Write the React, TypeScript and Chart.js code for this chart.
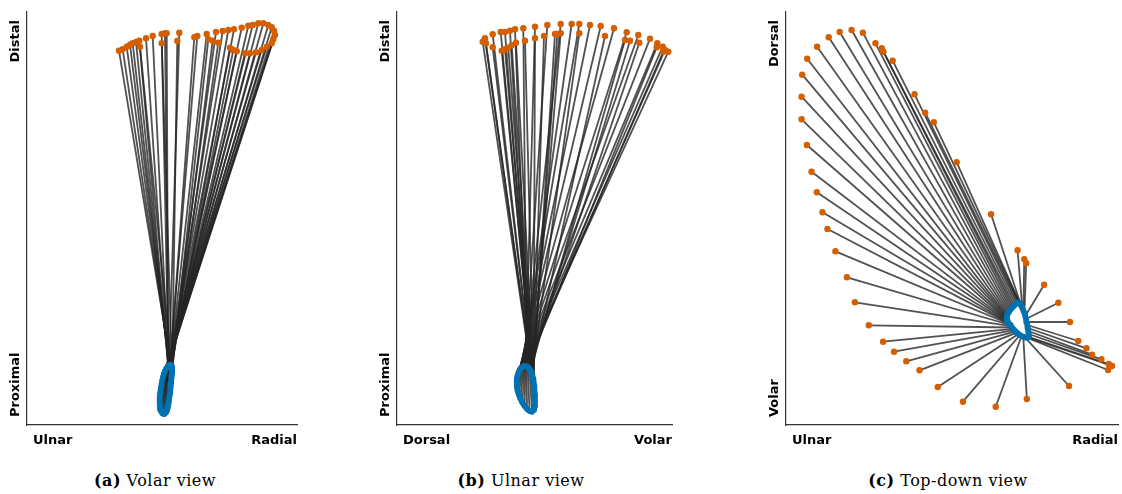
import React, { useEffect, useRef } from "react";
import { Chart, registerables } from "chart.js";

Chart.register(...registerables);

type Pt = [number, number];

// ---------- Panel (a) Volar view : x = ulnar→radial, y = proximal→distal ----------
const VOLAR_DISTAL: Pt[] = [
  [92, 374.3], [95.7, 375.7], [99.7, 378.3], [103, 380.3], [105.7, 381.7], [109, 383], [112.3, 384.3],
  [119, 386.7], [125.7, 389], [134.7, 391], [138, 391.7], [139.7, 391.7], [152.3, 392.3], [167.3, 387.7],
  [170.3, 389], [179.7, 391], [189, 393], [195.7, 394], [201.3, 395], [207, 395.7], [214.7, 397.3],
  [221.3, 399.3], [225.7, 400], [231.3, 401.7], [236.3, 401.7], [241.3, 400], [244.7, 397.7], [247, 394.3],
  [248, 390], [246.3, 385.7], [244.7, 381.7], [239.7, 378.3], [234.7, 375], [229, 372.7], [223, 371.7],
  [218, 371.7], [209.7, 373.7], [206.3, 375], [203, 377.3], [191.3, 382.3], [185.7, 384.3], [181.3, 385.7],
  [150.3, 384], [134.7, 381.7], [113, 378.3],
];
const VOLAR_PROXIMAL: Pt[] = [
  [145, 53], [144.8, 50], [144.5, 47], [144.2, 44], [143.9, 41], [143.6, 38], [143.3, 35], [143, 32],
  [142.6, 29], [142.2, 26], [141.8, 23], [141.3, 20], [140.7, 17], [140, 14.5], [139, 12.5], [137.8, 11.2],
  [136.5, 11], [135.3, 11.7], [134.3, 13.2], [133.5, 15.3], [133, 17.8], [132.7, 20.5], [132.6, 23.3],
  [132.6, 26.2], [132.8, 29.1], [133.1, 32], [133.5, 35], [134, 38], [134.5, 41],
  [135.2, 44.5], [136, 48], [137, 51.5], [138.2, 54.5], [139.5, 57], [140.8, 58.8], [142, 59.8], [143, 60.2],
  [143.9, 59.8], [144.5, 59], [144.9, 58], [145.1, 57], [145.2, 56], [145.2, 55], [145.1, 54], [145.05, 53.5],
];

// ---------- Panel (b) Ulnar view : x = dorsal→volar, y = proximal→distal ----------
const ULNAR_DISTAL: Pt[] = [
  [88, 386.7], [95.7, 390.7], [103.7, 393], [108, 393], [113, 394.3], [118, 395.7], [126.3, 396.7],
  [138, 398.3], [150.3, 400], [163.7, 401], [174.7, 401], [182.3, 401], [193, 400], [203.7, 399],
  [217, 396.7], [229.7, 392.7], [241.3, 390], [253, 386.3], [260.3, 381.7], [265.7, 378.3], [271.3, 373.3],
  [268, 375], [266.3, 373.3], [259.7, 377.7], [242.3, 382.3], [233, 384.3], [228, 385], [208, 389],
  [182.3, 391.7], [163.7, 391.7], [160.3, 391], [158, 391], [147, 389], [138, 386.7], [128, 384.3],
  [119, 382.3], [114.7, 379.7], [111.3, 377.3], [108, 375.7], [104.7, 374.3], [95.7, 377.7], [89, 381.7],
  [85.7, 383.3],
];
const ULNAR_PROXIMAL: Pt[] = [
  [137.8, 29], [138.2, 24], [138, 19], [137, 15], [135, 13.2], [132.5, 14], [130, 16], [127.5, 19],
  [125.3, 22.5], [123.3, 26.5], [121.7, 30.5], [120.5, 34.5], [119.8, 38.5], [119.6, 42.5], [119.9, 46.5],
  [120.6, 50], [121.6, 53], [122.8, 55.5], [124.2, 57.3], [125.7, 58.4], [127, 58.9],
  [128.2, 59.1], [129.4, 58.8], [130.6, 58.1], [131.7, 57.1], [132.6, 55.9], [133.4, 54.5], [134.1, 53],
  [134.7, 51.4], [135.2, 49.7], [135.6, 48], [136, 46.2], [136.3, 44.4], [136.6, 42.6], [136.8, 40.8],
  [137, 39], [137.2, 37.2], [137.3, 35.4], [137.4, 33.6], [137.5, 32.2], [137.6, 31], [137.7, 30.2],
  [137.75, 29.6],
];

// ---------- Panel (c) Top-down view : x = ulnar→radial, y = volar→dorsal ----------
const TOP_DISTAL: Pt[] = [
  [324.7, 61], [317.3, 65.7], [308, 70.3], [302.3, 76.7], [294, 84], [285.7, 103], [274, 122.3],
  [259.7, 140.3], [241.7, 161.7], [239.7, 165.7], [233, 174.7], [206.3, 210.7], [171.7, 262.7],
  [148.7, 302.7], [140, 312.3], [129.3, 330.7], [107.3, 364.3], [98, 373.3], [96.3, 376.7], [90, 381.7],
  [77.3, 392.3], [66, 395], [54, 393], [43, 387.7], [31.3, 378.3], [21.3, 366.3], [16.3, 350.3],
  [15.7, 328.3], [15.7, 305.7], [21, 280], [25.7, 253.3], [31, 232.7], [36.7, 212.7], [41.7, 196],
  [49.7, 173.7], [61.3, 147.7], [69.3, 122.7], [83.3, 99.7], [97.7, 83.3], [108.7, 73.3], [121, 63.7],
  [134.3, 54.7], [152.7, 38], [178, 23.3], [211, 18.3], [242.3, 26], [284.7, 39], [324, 55], [328, 59],
];
const TOP_PROXIMAL: Pt[] = [
  [244.5, 88], [244.2, 91], [243.8, 94], [243.3, 97], [242.8, 100], [242.2, 103], [241.5, 106], [240.7, 109],
  [239.8, 112], [238.8, 114.5], [237.7, 117], [236.6, 119.3], [235.5, 121.2], [234.5, 122.5], [233.4, 122.6],
  [232.3, 121.9], [231, 120.8], [229.7, 119.6], [228.4, 118.3], [227.2, 117], [226.1, 115.7], [225.1, 114.4],
  [224.2, 113.1], [223.4, 111.8], [222.8, 110.6], [222.3, 109.4], [222, 108.3], [221.9, 107.3], [221.9, 106.4],
  [222.1, 105.5], [222.4, 104.6], [222.8, 103.7], [223.3, 102.8], [223.9, 101.9], [224.6, 101],
  [225.4, 100], [226.3, 98.8], [227.3, 97.5], [228.4, 96.2], [229.6, 94.9], [230.9, 93.6], [232.3, 92.3],
  [233.8, 91.1], [235.4, 90], [237, 89], [238.7, 88.2], [240.5, 87.6], [242.3, 87.3], [243.8, 87.5],
];

// ---------- Axis end labels & captions ----------
const VOLAR_X_LABELS = ["Ulnar", "Radial"];
const VOLAR_Y_LABELS = ["Proximal", "Distal"];
const ULNAR_X_LABELS = ["Dorsal", "Volar"];
const ULNAR_Y_LABELS = ["Proximal", "Distal"];
const TOP_X_LABELS = ["Ulnar", "Radial"];
const TOP_Y_LABELS = ["Volar", "Dorsal"];
const CAPTION_TAGS = ["(a)", "(b)", "(c)"];
const CAPTION_TEXTS = ["Volar view", "Ulnar view", "Top-down view"];

const ORANGE = "#D55E00";
const BLUE = "#0072B2";
const LINE_COLOR = "rgba(38,38,38,0.8)";

const endLabelsPlugin = {
  id: "endLabels",
  afterDraw(chart: any, _args: any, opts: any) {
    const { ctx, chartArea } = chart;
    const { left, right, top, bottom } = chartArea;
    ctx.save();
    ctx.fillStyle = "#000";
    ctx.font = 'bold 13px "DejaVu Sans"';
    ctx.textBaseline = "alphabetic";
    ctx.textAlign = "left";
    ctx.fillText(opts.x[0], left + 6, bottom + 19);
    ctx.textAlign = "right";
    ctx.fillText(opts.x[1], right, bottom + 19);

    ctx.save();
    ctx.translate(left - 8, bottom - 8);
    ctx.rotate(-Math.PI / 2);
    ctx.textAlign = "left";
    ctx.fillText(opts.y[0], 0, 0);
    ctx.restore();

    ctx.save();
    ctx.translate(left - 8, top + 8);
    ctx.rotate(-Math.PI / 2);
    ctx.textAlign = "right";
    ctx.fillText(opts.y[1], 0, 0);
    ctx.restore();
    ctx.restore();
  },
};

type PanelSpec = {
  left: number;
  width: number;
  padLeft: number;
  padRight: number;
  xMax: number;
  distal: Pt[];
  proximal: Pt[];
  xLabels: string[];
  yLabels: string[];
};

const CANVAS_H = 460;
const Y_MAX = 413;

const PANELS: PanelSpec[] = [
  { left: 0, width: 310, padLeft: 27, padRight: 13, xMax: 270, distal: VOLAR_DISTAL, proximal: VOLAR_PROXIMAL, xLabels: VOLAR_X_LABELS, yLabels: VOLAR_Y_LABELS },
  { left: 370, width: 310, padLeft: 27, padRight: 8, xMax: 275, distal: ULNAR_DISTAL, proximal: ULNAR_PROXIMAL, xLabels: ULNAR_X_LABELS, yLabels: ULNAR_Y_LABELS },
  { left: 758, width: 364, padLeft: 28, padRight: 2, xMax: 334, distal: TOP_DISTAL, proximal: TOP_PROXIMAL, xLabels: TOP_X_LABELS, yLabels: TOP_Y_LABELS },
];

const CAPTION_CENTERS = [155, 521, 948];

function toXY(p: Pt) {
  return { x: p[0], y: p[1] };
}

function buildConfig(spec: PanelSpec): any {
  const segments = spec.distal.map((d, i) => ({
    data: [toXY(spec.proximal[i]), toXY(d)],
    showLine: true,
    borderColor: LINE_COLOR,
    borderWidth: 1.8,
    pointRadius: 0,
    order: 3,
    clip: false,
  }));
  const loop = {
    data: [...spec.proximal, spec.proximal[0]].map(toXY),
    showLine: true,
    borderColor: BLUE,
    backgroundColor: BLUE,
    borderWidth: 5.5,
    borderJoinStyle: "round",
    borderCapStyle: "round",
    pointRadius: 2.8,
    pointBorderWidth: 0,
    order: 2,
    clip: false,
  };
  const dots = {
    data: spec.distal.map(toXY),
    showLine: false,
    backgroundColor: ORANGE,
    borderColor: ORANGE,
    pointRadius: 3.2,
    pointBorderWidth: 0,
    order: 1,
    clip: false,
  };
  return {
    type: "scatter",
    data: { datasets: [dots, loop, ...segments] },
    options: {
      responsive: false,
      animation: false,
      events: [],
      layout: { padding: { left: spec.padLeft, right: spec.padRight, top: 12, bottom: CANVAS_H - 425 } },
      scales: {
        x: {
          type: "linear",
          min: 0,
          max: spec.xMax,
          grid: { display: false, drawTicks: false },
          ticks: { display: false },
          border: { display: true, color: "#333", width: 1.2 },
        },
        y: {
          type: "linear",
          min: 0,
          max: Y_MAX,
          grid: { display: false, drawTicks: false },
          ticks: { display: false },
          border: { display: true, color: "#333", width: 1.2 },
        },
      },
      plugins: {
        legend: { display: false },
        tooltip: { enabled: false },
        endLabels: { x: spec.xLabels, y: spec.yLabels },
      },
    },
    plugins: [endLabelsPlugin],
  };
}

function Panel({ spec }: { spec: PanelSpec }) {
  const ref = useRef<HTMLCanvasElement>(null);
  useEffect(() => {
    if (!ref.current) return;
    const chart = new Chart(ref.current, buildConfig(spec));
    return () => chart.destroy();
  }, [spec]);
  return (
    <canvas
      ref={ref}
      width={spec.width}
      height={CANVAS_H}
      style={{ position: "absolute", left: spec.left, top: 0, width: spec.width, height: CANVAS_H }}
    />
  );
}

export default function App() {
  return (
    <div style={{ position: "fixed", left: 0, top: 0, width: 1122, height: 494, background: "#fff", overflow: "hidden" }}>
      {PANELS.map((p, i) => (
        <Panel key={i} spec={p} />
      ))}
      {CAPTION_TAGS.map((tag, i) => (
        <div
          key={tag}
          style={{
            position: "absolute",
            left: CAPTION_CENTERS[i],
            top: 472,
            transform: "translateX(-50%)",
            whiteSpace: "nowrap",
            fontFamily: '"DejaVu Serif", serif',
            fontSize: 16,
            lineHeight: "18px",
            letterSpacing: "0.5px",
            color: "#000",
          }}
        >
          <b>{tag}</b> {CAPTION_TEXTS[i]}
        </div>
      ))}
    </div>
  );
}
